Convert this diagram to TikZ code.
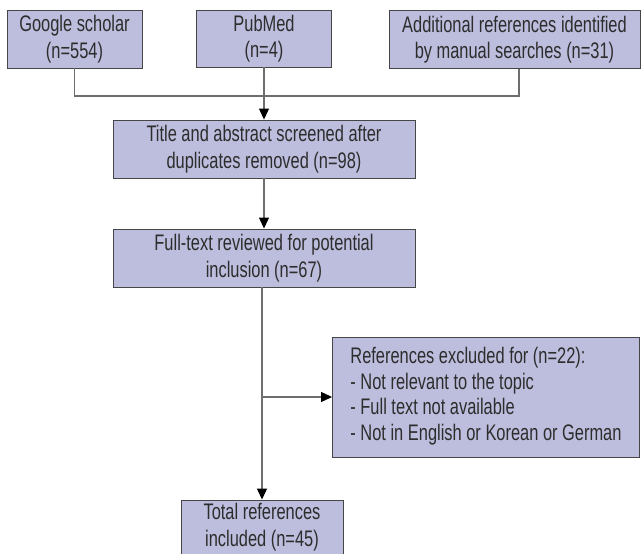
\documentclass[tikz,border=0pt]{standalone}
\usepackage{fontspec}
\setmainfont{Liberation Sans}[FakeStretch=0.73]
\usetikzlibrary{arrows.meta}
\definecolor{boxfill}{RGB}{189,189,221}
\definecolor{boxline}{RGB}{70,70,70}
\definecolor{txt}{RGB}{45,45,45}
\definecolor{conn}{RGB}{110,110,110}
\tikzset{
  flowbox/.style={draw=boxline, line width=0.9pt, fill=boxfill, text=txt, inner sep=0pt, align=center, font=\fontsize{22.5}{26.5}\selectfont},
  conline/.style={draw=conn, line width=1.1pt},
  arr/.style={conline, -{Triangle[length=11pt,width=10pt,color=black]}}
}
\begin{document}
\begin{tikzpicture}[x=1pt,y=-1pt]
\useasboundingbox (0,0) rectangle (641,554);
\node[flowbox, minimum width=135pt, minimum height=58pt] (g) at (74.5,39) {Google scholar\\(n=554)};
\node[flowbox, minimum width=135pt, minimum height=57pt] (p) at (264,38.5) {PubMed\\(n=4)};
\node[flowbox, minimum width=251pt, minimum height=58pt] (a) at (514.5,39.5) {Additional references identified\\by manual searches (n=31)};
\node[flowbox, minimum width=302pt, minimum height=58pt] (t) at (264,149) {Title and abstract screened after\\duplicates removed (n=98)};
\node[flowbox, minimum width=302pt, minimum height=58pt] (f) at (264,258) {Full-text reviewed for potential\\inclusion (n=67)};
\node[flowbox, minimum width=307pt, minimum height=120pt, font=\fontsize{22.5}{25.5}\selectfont] (e) at (486,397) {\begin{tabular}{@{}l@{}}References excluded for (n=22):\\- Not relevant to the topic\\- Full text not available\\- Not in English or Korean or German\end{tabular}};
\node[flowbox, minimum width=162pt, minimum height=54pt] (tot) at (262,527) {Total references\\included (n=45)};
\coordinate (jl) at (g.south |- 0,96);
\coordinate (jr) at (519,96);
\coordinate (br) at (tot.north |- e.west);
\draw[conline] (g.south) -- (jl) -- (jr) -- (jr |- a.south);
\draw[arr] (p.south) -- (t.north);
\draw[arr] (t.south) -- (f.north);
\draw[arr] (f.south -| tot.north) -- (tot.north);
\draw[arr] (br) -- (e.west);
\end{tikzpicture}
\end{document}
